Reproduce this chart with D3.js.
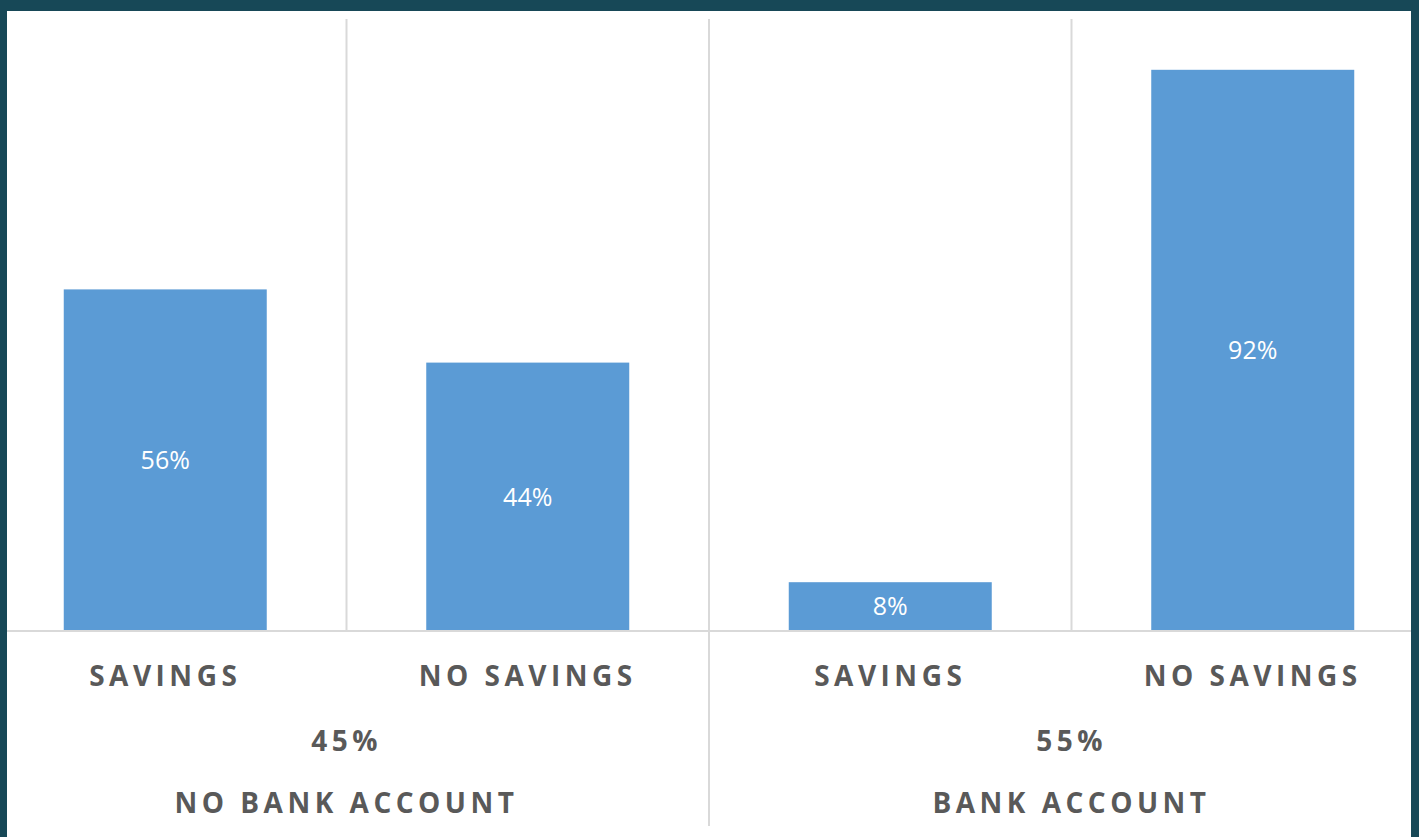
<!DOCTYPE html>
<html>
<head>
<meta charset="utf-8">
<script src="https://cdn.jsdelivr.net/npm/d3@7"></script>
<style>
  html, body { margin: 0; padding: 0; background: #174857; }
  svg { display: block; }
  .cat, .grp, .share { font-family: "Open Sans", sans-serif; font-weight: 700; fill: #595959; }
  .val { font-family: "Open Sans", sans-serif; fill: #ffffff; }
</style>
</head>
<body>
<div id="chart"></div>
<script>
// chart data
var categories = ["SAVINGS", "NO SAVINGS", "SAVINGS", "NO SAVINGS"];
var values = [56, 44, 8, 92];
var groups = ["NO BANK ACCOUNT", "BANK ACCOUNT"];
var groupShares = ["45%", "55%"];

var width = 1419,
    height = 837;

// white panel inside the dark frame
var panel = {left: 7, top: 11, right: 1411, bottom: 837};

var svg = d3.select("#chart")
    .append("svg")
    .attr("width", width)
    .attr("height", height);

svg.append("rect")
    .attr("x", 0).attr("y", 0)
    .attr("width", width).attr("height", height)
    .attr("fill", "#174857");

svg.append("rect")
    .attr("x", panel.left).attr("y", panel.top)
    .attr("width", panel.right - panel.left)
    .attr("height", panel.bottom - panel.top)
    .attr("fill", "#ffffff");

svg.append("clipPath")
    .attr("id", "panelClip")
    .append("rect")
    .attr("x", panel.left).attr("y", panel.top)
    .attr("width", panel.right - panel.left)
    .attr("height", panel.bottom - panel.top);

var g = svg.append("g").attr("clip-path", "url(#panelClip)");

// scales (plot area runs a bit past the visible panel, like the original crop)
var xScale = d3.scaleBand()
    .domain(d3.range(categories.length))
    .range([-16, 1434])
    .paddingInner(0.44)
    .paddingOuter(0.22);

var yScale = d3.scaleLinear()
    .domain([0, 100])
    .range([631, 21]);

var step = xScale.step();
var plotLeft = xScale.range()[0];

// vertical separators between categories
var seps = d3.range(1, categories.length);
g.selectAll("line.sep")
    .data(seps)
    .enter()
    .append("line")
    .attr("class", "sep")
    .attr("x1", function(d) { return plotLeft + d * step; })
    .attr("x2", function(d) { return plotLeft + d * step; })
    .attr("y1", 19)
    .attr("y2", function(d) { return d === 2 ? 826 : 631; })
    .attr("stroke", "#d9d9d9")
    .attr("stroke-width", 2);

// bars
g.selectAll("rect.bar")
    .data(values)
    .enter()
    .append("rect")
    .attr("class", "bar")
    .attr("x", function(d, i) { return xScale(i); })
    .attr("y", function(d) { return yScale(d); })
    .attr("width", xScale.bandwidth())
    .attr("height", function(d) { return yScale(0) - yScale(d); })
    .attr("fill", "#5b9bd5");

// baseline
g.append("line")
    .attr("x1", panel.left).attr("x2", panel.right)
    .attr("y1", yScale(0)).attr("y2", yScale(0))
    .attr("stroke", "#d9d9d9")
    .attr("stroke-width", 2);

// value labels
g.selectAll("text.val")
    .data(values)
    .enter()
    .append("text")
    .attr("class", "val")
    .attr("x", function(d, i) { return xScale(i) + xScale.bandwidth() / 2; })
    .attr("y", function(d) { return (yScale(d) + yScale(0)) / 2; })
    .attr("dy", "0.35em")
    .attr("text-anchor", "middle")
    .style("font-size", "25px")
    .text(function(d) { return d + "%"; });

// category labels
g.selectAll("text.cat")
    .data(categories)
    .enter()
    .append("text")
    .attr("class", "cat")
    .attr("x", function(d, i) { return xScale(i) + xScale.bandwidth() / 2; })
    .attr("y", 676)
    .attr("dy", "0.35em")
    .attr("text-anchor", "middle")
    .style("font-size", "28px")
    .style("letter-spacing", "4.5px")
    .text(function(d) { return d; });

// group shares and group names
var groupCenter = function(i) { return plotLeft + (2 * i + 1) * step; };

g.selectAll("text.share")
    .data(groupShares)
    .enter()
    .append("text")
    .attr("class", "share")
    .attr("x", function(d, i) { return groupCenter(i); })
    .attr("y", 741)
    .attr("dy", "0.35em")
    .attr("text-anchor", "middle")
    .style("font-size", "28px")
    .style("letter-spacing", "4.5px")
    .text(function(d) { return d; });

g.selectAll("text.grp")
    .data(groups)
    .enter()
    .append("text")
    .attr("class", "grp")
    .attr("x", function(d, i) { return groupCenter(i); })
    .attr("y", 803)
    .attr("dy", "0.35em")
    .attr("text-anchor", "middle")
    .style("font-size", "28px")
    .style("letter-spacing", "4.5px")
    .text(function(d) { return d; });
</script>
</body>
</html>
